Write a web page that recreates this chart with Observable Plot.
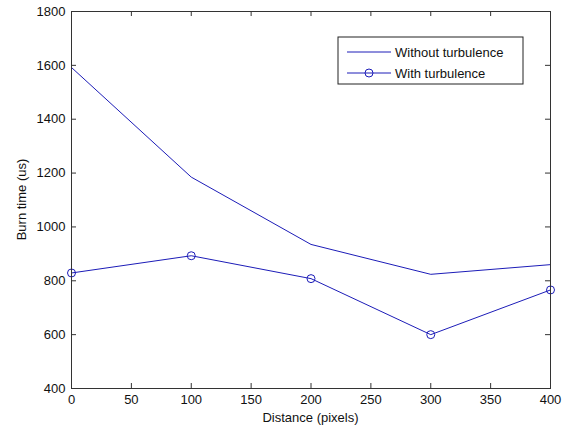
<!DOCTYPE html>
<html>
<head>
<meta charset="utf-8">
<script src="https://cdn.jsdelivr.net/npm/d3@7"></script>
<script src="https://cdn.jsdelivr.net/npm/@observablehq/plot@0.6"></script>
<style>
  html, body { margin: 0; padding: 0; background: #fff; }
  #chart { position: relative; width: 567px; height: 429px; }
</style>
</head>
<body>
<div id="chart"></div>
<script>
const distance = [0, 100, 200, 300, 400];
const withoutTurbulence = [1592, 1185, 935, 824, 860];
const withTurbulence = [829, 893, 808, 600, 766];
const xTicks = [0, 50, 100, 150, 200, 250, 300, 350, 400];
const yTicks = [400, 600, 800, 1000, 1200, 1400, 1600, 1800];
const seriesNames = ["Without turbulence", "With turbulence"];

const W = 567, H = 429;
const mL = 71, mR = 17, mT = 11, mB = 41;
const plotH = H - mT - mB, plotW = W - mL - mR;
const blue = "#1c1cb8";
const axisColor = "#333";

const rowsA = distance.map((d, i) => ({x: d, y: withoutTurbulence[i]}));
const rowsB = distance.map((d, i) => ({x: d, y: withTurbulence[i]}));

const plot = Plot.plot({
  width: W, height: H,
  marginLeft: mL, marginRight: mR, marginTop: mT, marginBottom: mB,
  style: {fontFamily: "Liberation Sans, Arial, sans-serif", fontSize: "13px", color: "#111", background: "#fff"},
  x: {domain: [0, 400]},
  y: {domain: [400, 1800]},
  marks: [
    Plot.axisX(xTicks, {tickSize: 0, tickPadding: 6, fontSize: 13, label: null, tickFormat: d => String(d)}),
    Plot.axisY(yTicks, {tickSize: 0, tickPadding: 6, fontSize: 13, label: null, tickFormat: d => String(d)}),
    Plot.tickX(xTicks, {x: d => d, insetTop: plotH - 5, stroke: axisColor}),
    Plot.tickX(xTicks, {x: d => d, insetBottom: plotH - 5, stroke: axisColor}),
    Plot.tickY(yTicks, {y: d => d, insetRight: plotW - 5, stroke: axisColor}),
    Plot.tickY(yTicks, {y: d => d, insetLeft: plotW - 5, stroke: axisColor}),
    Plot.line(rowsA, {x: "x", y: "y", stroke: blue, strokeWidth: 1}),
    Plot.line(rowsB, {x: "x", y: "y", stroke: blue, strokeWidth: 1}),
    Plot.dot(rowsB, {x: "x", y: "y", r: 4, stroke: blue, strokeWidth: 1, fill: "none"}),
    Plot.frame({stroke: axisColor, strokeWidth: 1})
  ]
});

const svg = d3.select(plot);
// axis titles
svg.append("text")
  .attr("x", mL + plotW / 2).attr("y", H - 7)
  .attr("text-anchor", "middle")
  .attr("font-size", 13).attr("fill", "#111")
  .text("Distance (pixels)");
svg.append("text")
  .attr("transform", `translate(26,${mT + plotH / 2}) rotate(-90)`)
  .attr("text-anchor", "middle")
  .attr("font-size", 13).attr("fill", "#111")
  .text("Burn time (us)");

// legend
const lg = svg.append("g").attr("transform", "translate(338,37)");
lg.append("rect").attr("width", 185).attr("height", 47)
  .attr("fill", "#fff").attr("stroke", "#222").attr("stroke-width", 1);
seriesNames.forEach((name, i) => {
  const yy = 15 + i * 21;
  lg.append("line").attr("x1", 9).attr("x2", 53).attr("y1", yy).attr("y2", yy)
    .attr("stroke", blue).attr("stroke-width", 1);
  if (i === 1) {
    lg.append("circle").attr("cx", 31).attr("cy", yy).attr("r", 4)
      .attr("fill", "none").attr("stroke", blue);
  }
  lg.append("text").attr("x", 57).attr("y", yy).attr("dy", "0.35em")
    .attr("text-anchor", "start")
    .attr("font-size", 13).attr("fill", "#111").text(name);
});

document.getElementById("chart").appendChild(plot);
</script>
</body>
</html>
